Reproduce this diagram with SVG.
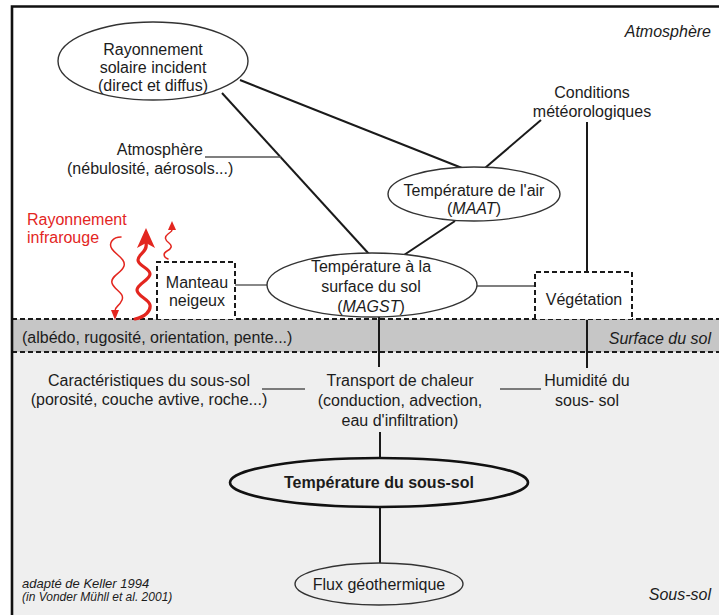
<svg xmlns="http://www.w3.org/2000/svg" width="719" height="615" viewBox="0 0 719 615">
<defs>
<style>
text{font-family:"Liberation Sans",Arial,sans-serif;font-size:16px;fill:#1c1c1c}
.c{text-anchor:middle}
.e{text-anchor:end}
.i{font-style:italic}
.red{fill:#e3261f}
.ell{fill:#fff;stroke:#333;stroke-width:1.4}
.box{fill:#fff;stroke:#1a1a1a;stroke-width:2;stroke-dasharray:5 3}
.dash{fill:none;stroke:#1a1a1a;stroke-width:2;stroke-dasharray:5 3}
.ln{stroke:#1a1a1a;stroke-width:2;fill:none}
.thin{stroke:#555;stroke-width:1.4;fill:none}
.wave{fill:none;stroke:#e3261f;stroke-linecap:round}
</style>
</defs>
<!-- background zones -->
<rect x="12" y="6" width="707" height="313" fill="#ffffff"/>
<rect x="12" y="319" width="707" height="33" fill="#c6c6c6"/>
<rect x="12" y="352" width="707" height="263" fill="#efefef"/>
<path class="dash" d="M12,319 H719 M12,352 H719"/>
<path d="M12,615 V6.5 H719" fill="none" stroke="#111" stroke-width="2.6"/>
<!-- zone labels -->
<text class="e i" x="711" y="37">Atmosphère</text>
<text class="e i" x="711" y="344">Surface du sol</text>
<text class="e i" x="711" y="600">Sous-sol</text>
<text x="22" y="343">(albédo, rugosité, orientation, pente...)</text>
<text class="i" x="22" y="588" style="font-size:13px">adapté de Keller 1994</text>
<text class="i" x="22" y="601" style="font-size:12px">(in Vonder Mühll et al. 2001)</text>
<!-- connectors -->
<g id="connectors">
<line class="ln" x1="240" y1="80" x2="462" y2="168"/>
<line class="ln" x1="222" y1="93" x2="369" y2="254"/>
<line class="thin" x1="205" y1="157" x2="281" y2="157"/>
<line class="ln" x1="541" y1="120" x2="485" y2="168"/>
<line class="ln" x1="587" y1="122" x2="587" y2="272"/>
<line class="ln" x1="455" y1="221" x2="404" y2="255"/>
<line class="thin" x1="235" y1="285" x2="267" y2="285"/>
<line class="thin" x1="477" y1="286" x2="535" y2="286"/>
<line class="ln" x1="379" y1="317" x2="379" y2="367"/>
<line class="ln" x1="587" y1="320" x2="587" y2="368"/>
<line class="thin" x1="262" y1="389" x2="305" y2="389"/>
<line class="thin" x1="500" y1="389" x2="541" y2="389"/>
<line class="ln" x1="380" y1="432" x2="380" y2="458"/>
<line class="ln" x1="380" y1="507" x2="380" y2="563"/>
</g>
<!-- infrared radiation -->
<g id="infrarouge">
<text class="red" x="27" y="225">Rayonnement</text>
<text class="red" x="27" y="243">infrarouge</text>
<path class="wave" stroke-width="1.5" d="M121,237 C113,237 108,243 112,249 S126,259 124,266 S110,276 112,283 S125,293 122,300 S115,306 115,311"/>
<polygon fill="#e3261f" points="115,320 111,310 119,310"/>
<path class="wave" stroke-width="3.2" d="M135,319 C145,317 151,311 150,305 S137,296 137,290 S150,280 150,274 S138,266 138,260 S148,252 146,243"/>
<polygon fill="#e3261f" points="146,228 155,248 146,243 137,248"/>
<path class="wave" stroke-width="1.5" d="M168,259 C163,257 163,253 167,251 S173,246 169,243 S164,237 168,234 S172,231 172,229"/>
<polygon fill="#e3261f" points="172,221 168,230 176,230"/>
</g>
<!-- nodes -->
<g id="rayonnement-solaire">
<ellipse class="ell" cx="153" cy="61" rx="95" ry="39"/>
<text class="c" x="153" y="55">Rayonnement</text>
<text class="c" x="153" y="73">solaire incident</text>
<text class="c" x="153" y="91">(direct et diffus)</text>
</g>
<g id="atmosphere">
<text class="e" x="203" y="155">Atmosphère</text>
<text x="67" y="174">(nébulosité, aérosols...)</text>
</g>
<g id="conditions">
<text class="c" x="592" y="98">Conditions</text>
<text class="c" x="592" y="117">météorologiques</text>
</g>
<g id="temperature-air">
<ellipse class="ell" cx="474" cy="194" rx="86" ry="27"/>
<text class="c" x="474" y="196">Température de l'air</text>
<text class="c" x="474" y="214">(<tspan class="i">MAAT</tspan>)</text>
</g>
<g id="manteau-neigeux">
<path class="box" d="M157,319 V262 H235 V319"/>
<text class="c" x="197" y="288">Manteau</text>
<text class="c" x="197" y="306">neigeux</text>
</g>
<g id="temperature-surface">
<ellipse class="ell" cx="372" cy="285" rx="105" ry="32"/>
<text class="c" x="371" y="272">Température à la</text>
<text class="c" x="371" y="292">surface du sol</text>
<text class="c" x="371" y="312">(<tspan class="i">MAGST</tspan>)</text>
</g>
<g id="vegetation">
<path class="box" d="M535,319 V272 H632 V319"/>
<text class="c" x="584" y="305">Végétation</text>
</g>
<g id="caracteristiques">
<text class="c" x="149" y="386">Caractéristiques du sous-sol</text>
<text class="c" x="149" y="405">(porosité, couche avtive, roche...)</text>
</g>
<g id="transport">
<text class="c" x="400" y="386">Transport de chaleur</text>
<text class="c" x="400" y="406">(conduction, advection,</text>
<text class="c" x="400" y="426">eau d'infiltration)</text>
</g>
<g id="humidite">
<text class="c" x="587" y="386">Humidité du</text>
<text class="c" x="587" y="406">sous- sol</text>
</g>
<g id="temperature-sous-sol">
<ellipse cx="379" cy="482.5" rx="149" ry="24.5" fill="#efefef" stroke="#111" stroke-width="2.6"/>
<text class="c" x="379" y="488" style="font-weight:bold">Température du sous-sol</text>
</g>
<g id="flux">
<ellipse cx="379" cy="584" rx="84" ry="21" fill="#efefef" stroke="#333" stroke-width="1.4"/>
<text class="c" x="379" y="590">Flux géothermique</text>
</g>
</svg>
